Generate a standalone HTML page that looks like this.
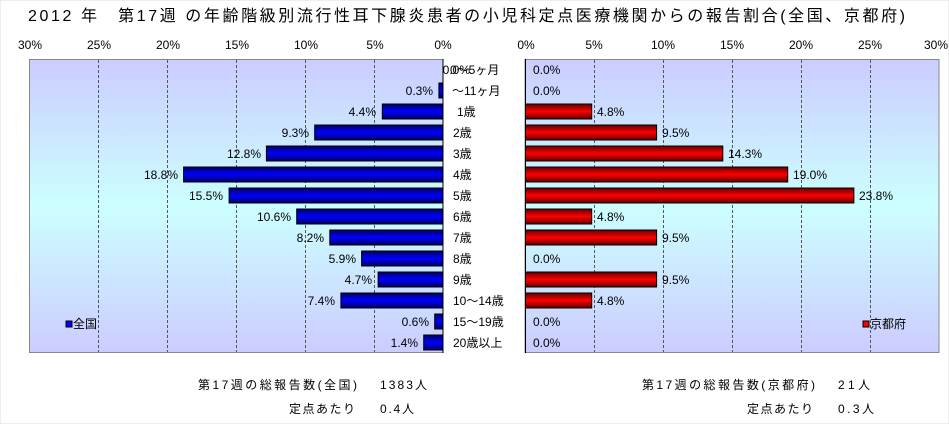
<!DOCTYPE html>
<html><head><meta charset="utf-8"><style>
body{margin:0;background:#fff}
svg text{font-family:"Liberation Sans","Noto Sans CJK JP",sans-serif;font-size:12px;fill:#000}
</style></head><body>
<svg width="949" height="424" xmlns="http://www.w3.org/2000/svg">
<defs>
<linearGradient id="bg" x1="0" y1="0" x2="0" y2="1">
<stop offset="0" stop-color="#ccccff"/><stop offset="0.5" stop-color="#ccffff"/><stop offset="1" stop-color="#ccccff"/>
</linearGradient>
<linearGradient id="bl" x1="0" y1="0" x2="0" y2="1">
<stop offset="0" stop-color="#000060"/><stop offset="0.5" stop-color="#0000ff"/><stop offset="1" stop-color="#000060"/>
</linearGradient>
<linearGradient id="rd" x1="0" y1="0" x2="0" y2="1">
<stop offset="0" stop-color="#600000"/><stop offset="0.5" stop-color="#ff0000"/><stop offset="1" stop-color="#600000"/>
</linearGradient>
</defs>
<rect x="0" y="0" width="949" height="424" fill="#fff" stroke="#ddd"/>
<text x="28" y="21" style="font-size:16px" textLength="877" lengthAdjust="spacing">2012 年　第17週 の年齢階級別流行性耳下腺炎患者の小児科定点医療機関からの報告割合(全国、京都府)</text>
<!-- left plot -->
<rect x="29.5" y="59.5" width="413.5" height="293" fill="url(#bg)" stroke="#888"/>
<g stroke="#555" stroke-dasharray="3,2">
<line x1="98.5" y1="60" x2="98.5" y2="352"/><line x1="167.5" y1="60" x2="167.5" y2="352"/><line x1="236.5" y1="60" x2="236.5" y2="352"/><line x1="305.5" y1="60" x2="305.5" y2="352"/><line x1="374.5" y1="60" x2="374.5" y2="352"/>
</g>
<line x1="443" y1="59" x2="443" y2="353" stroke="#000"/>
<g text-anchor="middle">
<text x="30" y="49">30%</text><text x="99" y="49">25%</text><text x="168" y="49">20%</text><text x="237" y="49">15%</text><text x="306" y="49">10%</text><text x="375" y="49">5%</text><text x="443" y="49">0%</text>
</g>
<g fill="url(#bl)" stroke="#000">
<rect x="438.9" y="83" width="4.1" height="15"/>
<rect x="382.3" y="104" width="60.7" height="15"/>
<rect x="314.7" y="125" width="128.3" height="15"/>
<rect x="266.4" y="146" width="176.6" height="15"/>
<rect x="183.6" y="167" width="259.4" height="15"/>
<rect x="229.1" y="188" width="213.9" height="15"/>
<rect x="296.7" y="209" width="146.3" height="15"/>
<rect x="329.8" y="230" width="113.2" height="15"/>
<rect x="361.6" y="251" width="81.4" height="15"/>
<rect x="378.1" y="272" width="64.9" height="15"/>
<rect x="340.9" y="293" width="102.1" height="15"/>
<rect x="434.7" y="314" width="8.3" height="15"/>
<rect x="423.7" y="335" width="19.3" height="15"/>
</g>
<g text-anchor="end">
<text x="470" y="74">0.0%</text>
<text x="433" y="95">0.3%</text>
<text x="376" y="116">4.4%</text>
<text x="309" y="137">9.3%</text>
<text x="261" y="158">12.8%</text>
<text x="178" y="179">18.8%</text>
<text x="223" y="200">15.5%</text>
<text x="291" y="221">10.6%</text>
<text x="324" y="242">8.2%</text>
<text x="356" y="263">5.9%</text>
<text x="372" y="284">4.7%</text>
<text x="335" y="305">7.4%</text>
<text x="429" y="326">0.6%</text>
<text x="418" y="347">1.4%</text>
</g>
<g>
<text x="450" y="74">0〜5ヶ月</text>
<text x="452" y="95">〜11ヶ月</text>
<text x="457" y="116">1歳</text>
<text x="453" y="137">2歳</text>
<text x="453" y="158">3歳</text>
<text x="453" y="179">4歳</text>
<text x="453" y="200">5歳</text>
<text x="453" y="221">6歳</text>
<text x="453" y="242">7歳</text>
<text x="453" y="263">8歳</text>
<text x="453" y="284">9歳</text>
<text x="453" y="305">10〜14歳</text>
<text x="453" y="326">15〜19歳</text>
<text x="453" y="347">20歳以上</text>
</g>
<rect x="66" y="321" width="6" height="6" fill="#0000ff" stroke="#000"/>
<text x="73" y="328">全国</text>
<!-- right plot -->
<rect x="525" y="59.5" width="414" height="293" fill="url(#bg)" stroke="#888"/>
<g stroke="#555" stroke-dasharray="3,2">
<line x1="594.5" y1="60" x2="594.5" y2="352"/><line x1="663.5" y1="60" x2="663.5" y2="352"/><line x1="732.5" y1="60" x2="732.5" y2="352"/><line x1="801.5" y1="60" x2="801.5" y2="352"/><line x1="870.5" y1="60" x2="870.5" y2="352"/>
</g>
<line x1="525.5" y1="59" x2="525.5" y2="353" stroke="#000"/>
<g text-anchor="middle">
<text x="526" y="49">0%</text><text x="594" y="49">5%</text><text x="663" y="49">10%</text><text x="732" y="49">15%</text><text x="801" y="49">20%</text><text x="870" y="49">25%</text><text x="936" y="49">30%</text>
</g>
<g fill="url(#rd)" stroke="#000">
<rect x="525.5" y="104" width="66.2" height="15"/>
<rect x="525.5" y="125" width="131.1" height="15"/>
<rect x="525.5" y="146" width="197.3" height="15"/>
<rect x="525.5" y="167" width="262.2" height="15"/>
<rect x="525.5" y="188" width="328.4" height="15"/>
<rect x="525.5" y="209" width="66.2" height="15"/>
<rect x="525.5" y="230" width="131.1" height="15"/>
<rect x="525.5" y="272" width="131.1" height="15"/>
<rect x="525.5" y="293" width="66.2" height="15"/>
</g>
<g>
<text x="533" y="74">0.0%</text>
<text x="533" y="95">0.0%</text>
<text x="597" y="116">4.8%</text>
<text x="662" y="137">9.5%</text>
<text x="728" y="158">14.3%</text>
<text x="793" y="179">19.0%</text>
<text x="859" y="200">23.8%</text>
<text x="597" y="221">4.8%</text>
<text x="662" y="242">9.5%</text>
<text x="533" y="263">0.0%</text>
<text x="662" y="284">9.5%</text>
<text x="597" y="305">4.8%</text>
<text x="533" y="326">0.0%</text>
<text x="533" y="347">0.0%</text>
</g>
<rect x="863" y="321" width="6" height="6" fill="#ff0000" stroke="#000"/>
<text x="870" y="328">京都府</text>
<!-- footer -->
<text x="198" y="389" textLength="159" lengthAdjust="spacing">第17週の総報告数(全国)</text>
<text x="380" y="389" textLength="47" lengthAdjust="spacing">1383人</text>
<text x="289" y="413" textLength="66" lengthAdjust="spacing">定点あたり</text>
<text x="380" y="413" textLength="34" lengthAdjust="spacing">0.4人</text>
<text x="642" y="389" textLength="173" lengthAdjust="spacing">第17週の総報告数(京都府)</text>
<text x="838" y="389" textLength="32" lengthAdjust="spacing">21人</text>
<text x="747" y="413" textLength="66" lengthAdjust="spacing">定点あたり</text>
<text x="838" y="413" textLength="36" lengthAdjust="spacing">0.3人</text>
</svg>
</body></html>
